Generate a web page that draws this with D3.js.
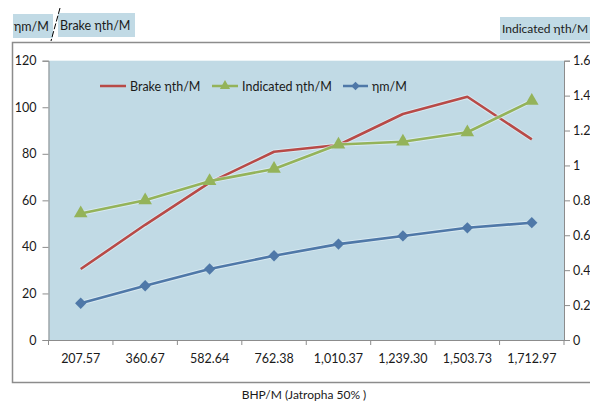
<!DOCTYPE html>
<html><head><meta charset="utf-8">
<script src="https://cdn.jsdelivr.net/npm/d3@7"></script>
<style>body{margin:0;background:#fff}svg{display:block}text{font-family:Lato,"Open Sans",sans-serif;fill:#1a1a1a}</style>
</head><body>
<svg id="c" width="590" height="405"></svg>
<script>
const categories = ["207.57","360.67","582.64","762.38","1,010.37","1,239.30","1,503.73","1,712.97"];
const brake = [30.5, 49.5, 67.6, 80.9, 83.8, 97.1, 104.5, 86.2];
const indicated = [0.725, 0.80, 0.91, 0.98, 1.12, 1.136, 1.19, 1.37];
const mech = [15.8, 23.3, 30.5, 36.2, 41.2, 44.7, 48.2, 50.4];
const leftTicks = [0,20,40,60,80,100,120];
const rightTicks = [0,0.2,0.4,0.6,0.8,1,1.2,1.4,1.6];

const svg = d3.select("#c");
const L=48.5, R=564, T=60.7, B=340;
const x = d3.scaleBand().domain(categories).range([L,R]);
const yL = d3.scaleLinear().domain([0,120]).range([B,T]);
const yR = d3.scaleLinear().domain([0,1.6]).range([B,T]);
const cx = c => x(c)+x.bandwidth()/2;

// outer frame
svg.append("rect").attr("x",12.5).attr("y",42.5).attr("width",600).attr("height",340).attr("fill","#fff").attr("stroke","#8c8c8c").attr("stroke-width",1.5);
// plot area
svg.append("rect").attr("x",L).attr("y",T).attr("width",R-L).attr("height",B-T).attr("fill","#c1dae5");

// left axis
const ga = svg.append("g").attr("transform",`translate(${L},0)`)
  .call(d3.axisLeft(yL).tickValues(leftTicks).tickSize(6).tickPadding(6).tickFormat(d3.format("d")));
ga.select(".domain").attr("stroke","#8c8c8c");
ga.selectAll(".tick line").attr("stroke","#8c8c8c");
ga.selectAll("text").style("font-size","12.5px").attr("fill","#1a1a1a");
// right axis
const gr = svg.append("g").attr("transform",`translate(${R},0)`)
  .call(d3.axisRight(yR).tickValues(rightTicks).tickSize(6).tickPadding(3).tickFormat(d=>d3.format("")(d)));
gr.select(".domain").attr("stroke","#8c8c8c");
gr.selectAll(".tick line").attr("stroke","#8c8c8c");
gr.selectAll("text").style("font-size","12.5px").attr("fill","#1a1a1a");
// bottom axis
const gb = svg.append("g").attr("transform",`translate(0,${B})`)
  .call(d3.axisBottom(x).tickSize(0).tickPadding(14));
gb.select(".domain").attr("stroke","#8c8c8c");
gb.selectAll("text").style("font-size","12.5px").attr("fill","#1a1a1a");
const bounds = categories.map(c=>x(c)).concat([R]);
svg.append("g").selectAll("line").data(bounds).join("line")
  .attr("x1",d=>d).attr("x2",d=>d).attr("y1",B).attr("y2",B+5).attr("stroke","#8c8c8c");

// lines
const lineL = d3.line().x((d,i)=>cx(categories[i])).y(d=>yL(d));
const lineR = d3.line().x((d,i)=>cx(categories[i])).y(d=>yR(d));
function draw(data, gen, color){
  svg.append("path").datum(data).attr("d",gen).attr("fill","none").attr("stroke","#e8f4f8").attr("stroke-width",4.5).attr("stroke-linejoin","round").attr("opacity",0.6);
  svg.append("path").datum(data).attr("d",gen).attr("fill","none").attr("stroke",color).attr("stroke-width",2.6).attr("stroke-linejoin","round");
}
draw(brake, lineL, "#b84a47");
draw(indicated, lineR, "#94b35a");
draw(mech, lineL, "#4f78a8");

const tri = d3.symbol().type(d3.symbolTriangle).size(80);
const sq = d3.symbol().type(d3.symbolSquare).size(64);
svg.append("g").selectAll("path").data(indicated).join("path")
  .attr("d",tri).attr("transform",(d,i)=>`translate(${cx(categories[i])},${yR(d)})`).attr("fill","#94b35a");
svg.append("g").selectAll("path").data(mech).join("path")
  .attr("d",sq).attr("transform",(d,i)=>`translate(${cx(categories[i])},${yL(d)}) rotate(45)`).attr("fill","#4f78a8");

// legend
const lg = svg.append("g");
const ly = 86;
lg.append("line").attr("x1",100).attr("x2",126).attr("y1",ly).attr("y2",ly).attr("stroke","#b84a47").attr("stroke-width",2.5);
lg.append("text").attr("x",130).attr("y",ly+4.5).style("font-size","12.5px").text("Brake ηth/M");
lg.append("line").attr("x1",212).attr("x2",238).attr("y1",ly).attr("y2",ly).attr("stroke","#94b35a").attr("stroke-width",2.5);
lg.append("path").attr("d",d3.symbol().type(d3.symbolTriangle).size(45)).attr("transform",`translate(225,${ly})`).attr("fill","#94b35a");
lg.append("text").attr("x",242).attr("y",ly+4.5).style("font-size","12.5px").text("Indicated ηth/M");
lg.append("line").attr("x1",343).attr("x2",368).attr("y1",ly).attr("y2",ly).attr("stroke","#4f78a8").attr("stroke-width",2.5);
lg.append("path").attr("d",d3.symbol().type(d3.symbolSquare).size(36)).attr("transform",`translate(355.5,${ly}) rotate(45)`).attr("fill","#4f78a8");
lg.append("text").attr("x",372).attr("y",ly+4.5).style("font-size","12.5px").text("ηm/M");

// axis title boxes
function box(x0,y0,w,h,t,tx,fs){
  svg.append("rect").attr("x",x0).attr("y",y0).attr("width",w).attr("height",h).attr("fill","#c1dae5");
  svg.append("text").attr("x",tx).attr("y",y0+h/2+4.5).style("font-size",fs||"12.5px").text(t);
}
box(13,14,40,24,"ηm/M",14);
box(58,13,77,24,"Brake ηth/M",60);
box(500,17,90,23,"Indicated ηth/M",502,"12px");
svg.append("line").attr("x1",60).attr("y1",8).attr("x2",51).attr("y2",41).attr("stroke","#000").attr("stroke-width",1).attr("stroke-dasharray","6,2");

// x title
svg.append("text").attr("x",304).attr("y",399).attr("text-anchor","middle").style("font-size","12px").text("BHP/M (Jatropha 50% )");
</script>
</body></html>
